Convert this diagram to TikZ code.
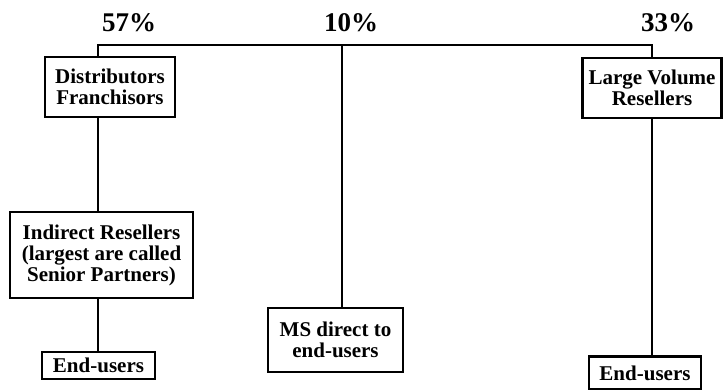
\documentclass[tikz,border=0pt]{standalone}
\usepackage{fontspec}
\setmainfont{Liberation Serif}
\usetikzlibrary{positioning}

\begin{document}
\begin{tikzpicture}[
    x=1pt,y=-1pt,
    font=\fontsize{21}{21}\selectfont\bfseries,
    box/.style 2 args={draw=black,line width=2.8pt,align=center,inner sep=0pt,minimum width=#1,minimum height=#2},
    share/.style={font=\fontsize{27}{28}\selectfont\bfseries},
    link/.style={line width=2.8pt,draw=black}
  ]
    \useasboundingbox (0,0) rectangle (724,390);

    \node[share] (p57) at (129,23) {57\%};
    \node[share] (p10) at (351,23) {10\%};
    \node[share] (p33) at (668,23) {33\%};

    \coordinate (jl) at (98,45);
    \coordinate (jm) at (342,45);
    \coordinate (jr) at (652,45);

    \node[box={130pt}{60pt}] (dist) at (110,87) {Distributors\\Franchisors};
    \node[box={139pt}{60pt}] (lvr) at (652,88) {Large Volume\\Resellers};
    \node[box={183pt}{86pt}] (ind) at (101.5,255) {Indirect Resellers\\(largest are called\\Senior Partners)};
    \node[box={113pt}{27pt}] (eul) at (98.5,365.5) {End-users};
    \node[box={135pt}{64pt}] (ms) at (335.5,340) {MS direct to\\end-users};
    \node[box={112pt}{33pt}] (eur) at (645,373) {End-users};

    \draw[link] (dist.north -| jl) -- (jl) -- (jr) -- (lvr.north -| jr);
    \draw[link] (jm) -- (ms.north -| jm);
    \draw[link] (dist.south -| jl) -- (ind.north -| jl);
    \draw[link] (ind.south -| jl) -- (eul.north -| jl);
    \draw[link] (lvr.south -| jr) -- (eur.north -| jr);
  \end{tikzpicture}
\end{document}
